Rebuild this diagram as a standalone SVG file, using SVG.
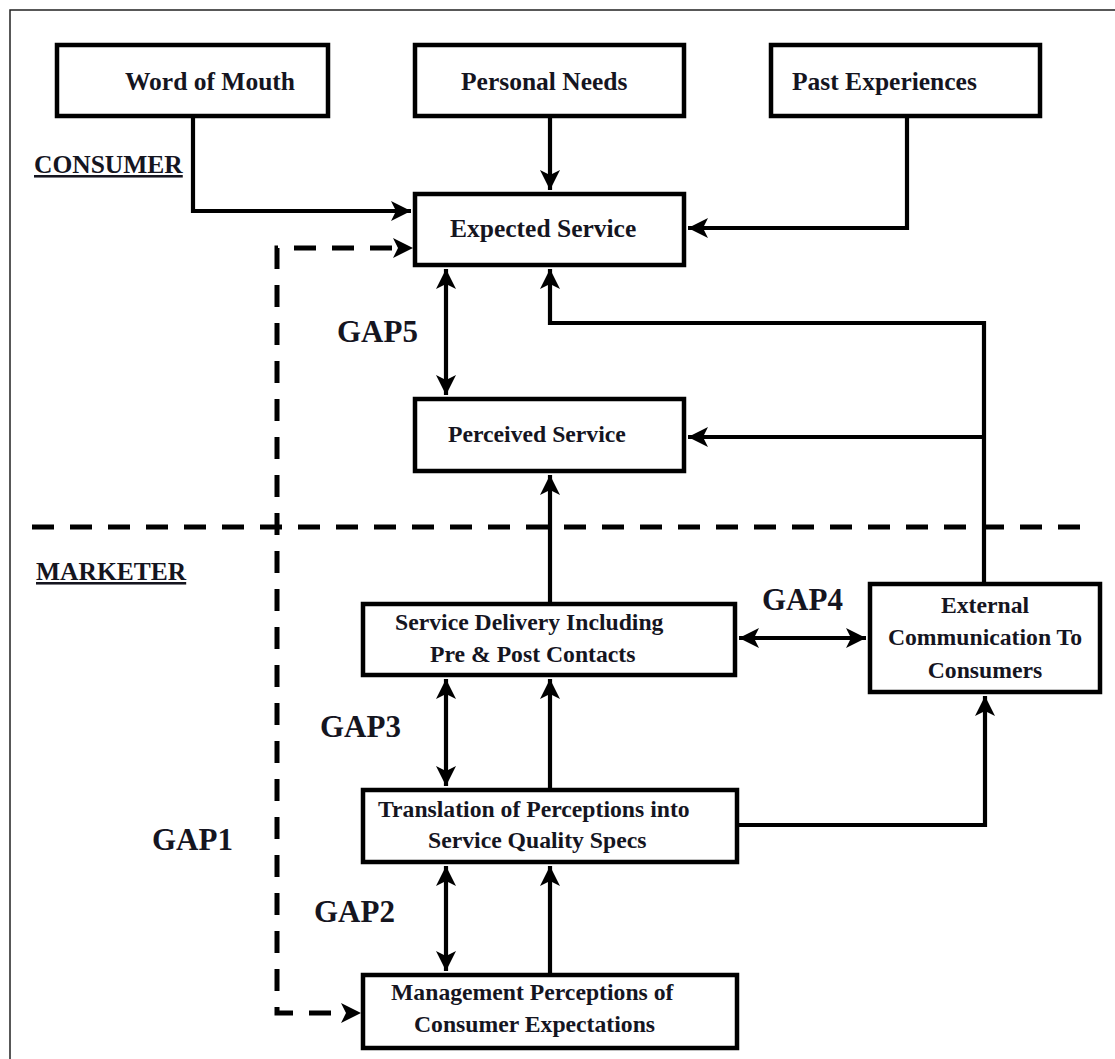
<svg xmlns="http://www.w3.org/2000/svg" width="1115" height="1059" viewBox="0 0 1115 1059">
<style>
.box{fill:#fff;stroke:#000;stroke-width:4.5}
.t{font-family:"Liberation Serif","Times New Roman",serif;font-weight:bold;fill:#15151f}
.h{font-size:25.5px}
.b{font-size:23.7px}
.g{font-size:31px}
.c{fill:none;stroke:#000;stroke-width:4.2}
.d{fill:none;stroke:#000;stroke-width:5;stroke-dasharray:22 16}
</style>
<defs>
<marker id="ah" viewBox="-22 -11 24 22" refX="0" refY="0" markerWidth="24" markerHeight="22" markerUnits="userSpaceOnUse" orient="auto-start-reverse">
<path d="M0,0 L-20,-10 L-15,0 L-20,10 Z" fill="#000"/>
</marker>
</defs>
<rect width="1115" height="1059" fill="#fff"/>
<path d="M10,1059 V10 H1115" fill="none" stroke="#222" stroke-width="1.5"/>

<g id="connectors">
<path class="c" d="M193,118 V211 H411" marker-end="url(#ah)"/>
<path class="c" d="M550,118 V190" marker-end="url(#ah)"/>
<path class="c" d="M907,118 V228 H688" marker-end="url(#ah)"/>
<path class="c" d="M446,269 V395" marker-start="url(#ah)" marker-end="url(#ah)"/>
<path class="c" d="M984,582 V323 H550 V269" marker-end="url(#ah)"/>
<path class="c" d="M984,437 H688" marker-end="url(#ah)"/>
<path class="c" d="M550,602 V475" marker-end="url(#ah)"/>
<path class="c" d="M739,638 H866" marker-start="url(#ah)" marker-end="url(#ah)"/>
<path class="c" d="M446,679 V786" marker-start="url(#ah)" marker-end="url(#ah)"/>
<path class="c" d="M550,788 V679" marker-end="url(#ah)"/>
<path class="c" d="M739,825 H985 V696" marker-end="url(#ah)"/>
<path class="c" d="M446,866 V971" marker-start="url(#ah)" marker-end="url(#ah)"/>
<path class="c" d="M550,973 V866" marker-end="url(#ah)"/>
<path class="d" d="M32,527 H1080"/>
<path class="d" d="M392,248 H277 V1013 H340"/>
<path d="M413,248 L393,238 L398,248 L393,258 Z" fill="#000"/>
<path d="M361,1013 L341,1003 L346,1013 L341,1023 Z" fill="#000"/>
</g>

<g id="word-of-mouth"><rect class="box" x="57" y="45" width="271" height="71"/><text class="t h" x="125" y="90">Word of Mouth</text></g>
<g id="personal-needs"><rect class="box" x="415" y="45" width="269" height="71"/><text class="t h" x="461" y="90">Personal Needs</text></g>
<g id="past-experiences"><rect class="box" x="771" y="45" width="269" height="71"/><text class="t h" x="792" y="90">Past Experiences</text></g>
<g id="consumer-label"><text class="t h" x="34" y="173" text-decoration="underline">CONSUMER</text></g>
<g id="expected-service"><rect class="box" x="415" y="194" width="269" height="71"/><text class="t h" x="450" y="237">Expected Service</text></g>
<g id="gap5"><text class="t g" x="337" y="342">GAP5</text></g>
<g id="perceived-service"><rect class="box" x="415" y="399" width="269" height="72"/><text class="t b" x="448" y="442">Perceived Service</text></g>
<g id="marketer-label"><text class="t h" x="36" y="580" text-decoration="underline">MARKETER</text></g>
<g id="service-delivery"><rect class="box" x="363" y="604" width="372" height="71"/><text class="t b" x="395" y="630">Service Delivery Including</text><text class="t b" x="430" y="662">Pre &amp; Post Contacts</text></g>
<g id="gap4"><text class="t g" x="762" y="610">GAP4</text></g>
<g id="external-communication"><rect class="box" x="870" y="584" width="230" height="108"/><text class="t b" text-anchor="middle" x="985" y="613">External</text><text class="t b" text-anchor="middle" x="985" y="645">Communication To</text><text class="t b" text-anchor="middle" x="985" y="678">Consumers</text></g>
<g id="gap3"><text class="t g" x="320" y="737">GAP3</text></g>
<g id="translation"><rect class="box" x="363" y="790" width="374" height="72"/><text class="t b" x="378" y="817">Translation of Perceptions into</text><text class="t b" x="428" y="848">Service Quality Specs</text></g>
<g id="gap1"><text class="t g" x="152" y="850">GAP1</text></g>
<g id="gap2"><text class="t g" x="314" y="922">GAP2</text></g>
<g id="management"><rect class="box" x="363" y="975" width="374" height="73"/><text class="t b" x="391" y="1000">Management Perceptions of</text><text class="t b" x="414" y="1032">Consumer Expectations</text></g>
</svg>
